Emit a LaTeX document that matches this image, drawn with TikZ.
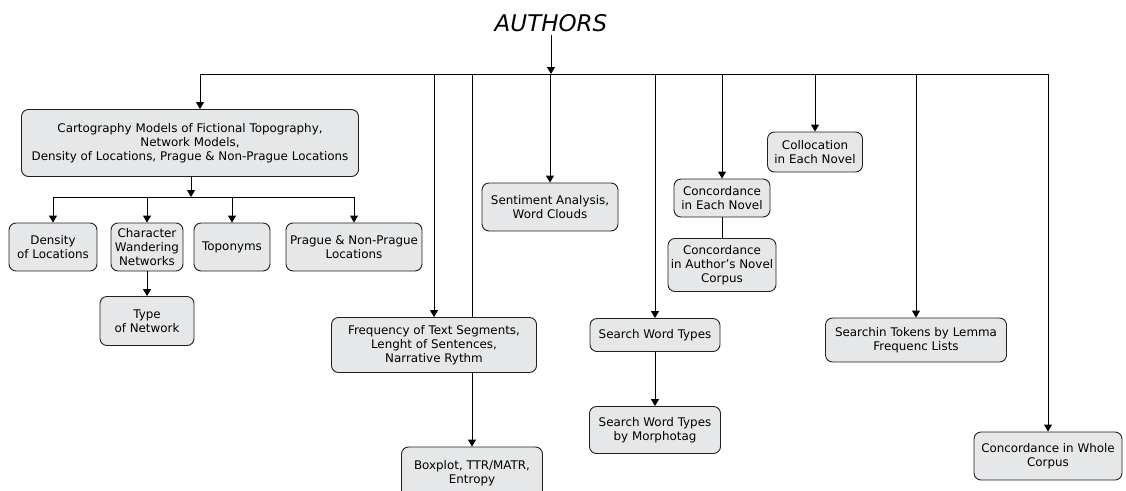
\documentclass[tikz,border=0pt]{standalone}
\usepackage{fontspec}
\setmainfont{DejaVu Sans}
\usetikzlibrary{arrows.meta,positioning}
\definecolor{boxfill}{HTML}{E6E7E8}
\definecolor{boxline}{HTML}{231F20}

\begin{document}
\begin{tikzpicture}[x=1pt,y=-1pt,line width=0.9pt,
        >={Triangle[width=8pt,length=7pt]},
        box/.style={draw=boxline,fill=boxfill,rounded corners=7pt,align=center,
            inner sep=1pt,font=\fontsize{11.9}{14}\selectfont},
        title/.style={font=\fontsize{23}{26}\selectfont\itshape}]
    \useasboundingbox (0,0) rectangle (1126,490);
    \clip (0,0) rectangle (1126,490);

    % top level
    \node[title] (authors) at (551,23) {AUTHORS};
    \coordinate (busL) at (200,74);
    \coordinate (busR) at (1048,74);

    \node[box,minimum width=337pt,minimum height=67pt] (cart) at (190,143)
        {Cartography Models of Fictional Topography,\\Network Models,\\Density of Locations, Prague \& Non-Prague Locations};
    \node[box,minimum width=205pt,minimum height=55pt] (freq) at (434,345)
        {Frequency of Text Segments,\\Lenght of Sentences,\\Narrative Rythm};
    \node[box,minimum width=141pt,minimum height=52pt] (boxplot) at (472,473)
        {Boxplot, TTR/MATR,\\Entropy};
    \node[box,minimum width=136pt,minimum height=48pt] (senti) at (550,207)
        {Sentiment Analysis,\\Word Clouds};
    \node[box,minimum width=96pt,minimum height=38pt] (concnov) at (722,198)
        {Concordance\\in Each Novel};
    \node[box,minimum width=108pt,minimum height=53pt] (concauth) at (722,265)
        {Concordance\\in Author's Novel\\Corpus};
    \node[box,minimum width=95pt,minimum height=40pt] (colloc) at (815,152)
        {Collocation\\in Each Novel};
    \node[box,minimum width=130pt,minimum height=33pt] (swt) at (655,335)
        {Search Word Types};
    \node[box,minimum width=131pt,minimum height=47pt] (swtm) at (655,430)
        {Search Word Types\\by Morphotag};
    \node[box,minimum width=181pt,minimum height=44pt] (tokens) at (916,340)
        {Searchin Tokens by Lemma\\Frequenc Lists};
    \node[box,minimum width=148pt,minimum height=48pt] (whole) at (1048,456)
        {Concordance in Whole\\Corpus};

    % cartography subtree
    \coordinate (sub) at (191,197);
    \node[box,minimum width=88pt,minimum height=48pt] (dens) at (53,247)
        {Density\\of Locations};
    \node[box,minimum width=72pt,minimum height=48pt] (charw) at (147,247)
        {Character\\Wandering\\Networks};
    \node[box,minimum width=76pt,minimum height=48pt] (topo) at (232,247)
        {Toponyms};
    \node[box,minimum width=136pt,minimum height=48pt] (prague) at (354,247)
        {Prague \& Non-Prague\\Locations};
    \node[box,minimum width=94pt,minimum height=49pt,below=74pt of charw.center,anchor=center] (typenet)
        {Type\\of Network};

    % connectors
    \draw[->] (authors.south) -- (authors.south |- busL);
    \draw (busL) -- (busR);
    \draw[->] (busL) -- (busL |- cart.north);
    \draw[->] (freq.north |- busL) -- (freq.north);
    \draw (boxplot.north |- busL) -- (boxplot.north |- freq.north);
    \draw[->] (boxplot.north |- freq.south) -- (boxplot.north);
    \draw[->] (senti.north |- busL) -- (senti.north);
    \draw[->] (swt.north |- busL) -- (swt.north);
    \draw[->] (swt) -- (swtm);
    \draw[->] (concnov.north |- busL) -- (concnov.north);
    \draw (concnov) -- (concauth);
    \draw[->] (colloc.north |- busL) -- (colloc.north);
    \draw[->] (tokens.north |- busL) -- (tokens.north);
    \draw[->] (busR) -- (busR |- whole.north);

    \draw[->] (cart.south -| sub) -- (sub);
    \draw (dens.north |- sub) -- (prague.north |- sub);
    \draw[->] (dens.north |- sub) -- (dens.north);
    \draw[->] (charw.north |- sub) -- (charw.north);
    \draw[->] (topo.north |- sub) -- (topo.north);
    \draw[->] (prague.north |- sub) -- (prague.north);
    \draw[->] (charw) -- (typenet);
\end{tikzpicture}
\end{document}
